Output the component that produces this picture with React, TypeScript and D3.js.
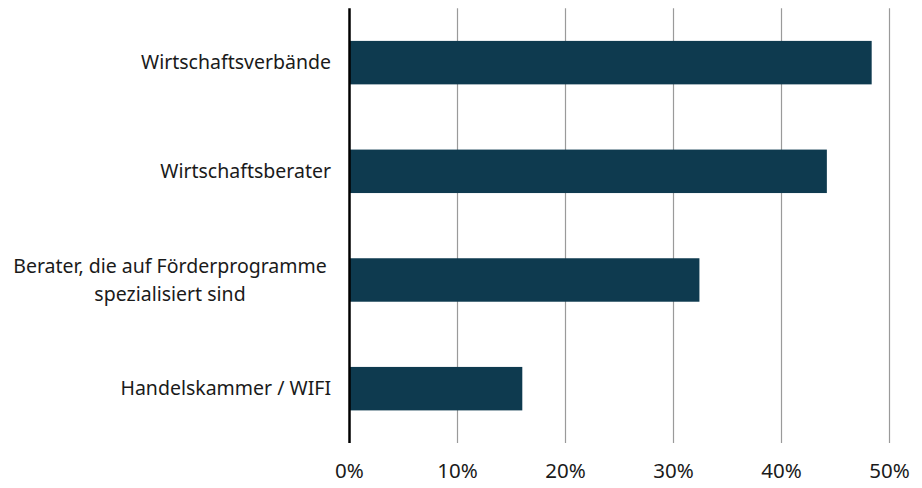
import React from "react";
import * as d3 from "d3";

const categories = [
  ["Wirtschaftsverbände"],
  ["Wirtschaftsberater"],
  ["Berater, die auf Förderprogramme", "spezialisiert sind"],
  ["Handelskammer / WIFI"],
];
const values = [48.35, 44.2, 32.4, 16.0];
const tickValues = [0, 10, 20, 30, 40, 50];

const W = 922;
const H = 488;
const margin = { left: 349.5, right: 32.5, top: 8.3, bottom: 45 };

export default function App() {
  const x = d3
    .scaleLinear()
    .domain([0, 50])
    .range([margin.left, W - margin.right]);
  const keys = categories.map((c) => c.join(" "));
  const y = d3
    .scaleBand()
    .domain(keys)
    .range([margin.top, H - margin.bottom])
    .paddingInner(0.6)
    .paddingOuter(0.3);
  const font = "'Noto Sans', sans-serif";
  return (
    <svg
      width={W}
      height={H}
      style={{ position: "absolute", left: 0, top: 0, background: "#fff" }}
    >
      {tickValues
        .filter((t) => t > 0)
        .map((t) => (
          <line
            key={t}
            x1={x(t)}
            x2={x(t)}
            y1={margin.top}
            y2={H - margin.bottom}
            stroke="#9a9a9a"
            strokeWidth={1.2}
          />
        ))}
      {keys.map((k, i) => (
        <rect
          key={k}
          x={x(0)}
          y={y(k)}
          width={x(values[i]) - x(0)}
          height={y.bandwidth()}
          fill="#0e3a4f"
        />
      ))}
      <line
        x1={x(0)}
        x2={x(0)}
        y1={margin.top}
        y2={H - margin.bottom}
        stroke="#000"
        strokeWidth={2.5}
      />
      {categories.map((lines, i) => {
        const cy = (y(keys[i]) as number) + y.bandwidth() / 2;
        const lh = 28;
        const start = cy - ((lines.length - 1) * lh) / 2;
        return (
          <text
            key={keys[i]}
            fontFamily={font}
            fontSize={19.5}
            fill="#1a1a1a"
          >
            {lines.map((l, j) => (
              <tspan
                key={j}
                x={lines.length > 1 ? 170 : 331}
                textAnchor={lines.length > 1 ? "middle" : "end"}
                y={start + j * lh}
                dy="0.35em"
              >
                {l}
              </tspan>
            ))}
          </text>
        );
      })}
      {tickValues.map((t) => (
        <text
          key={t}
          x={x(t)}
          y={471}
          dy="0.35em"
          textAnchor="middle"
          fontFamily={font}
          fontSize={20.5}
          fill="#1a1a1a"
        >
          {t}%
        </text>
      ))}
    </svg>
  );
}
